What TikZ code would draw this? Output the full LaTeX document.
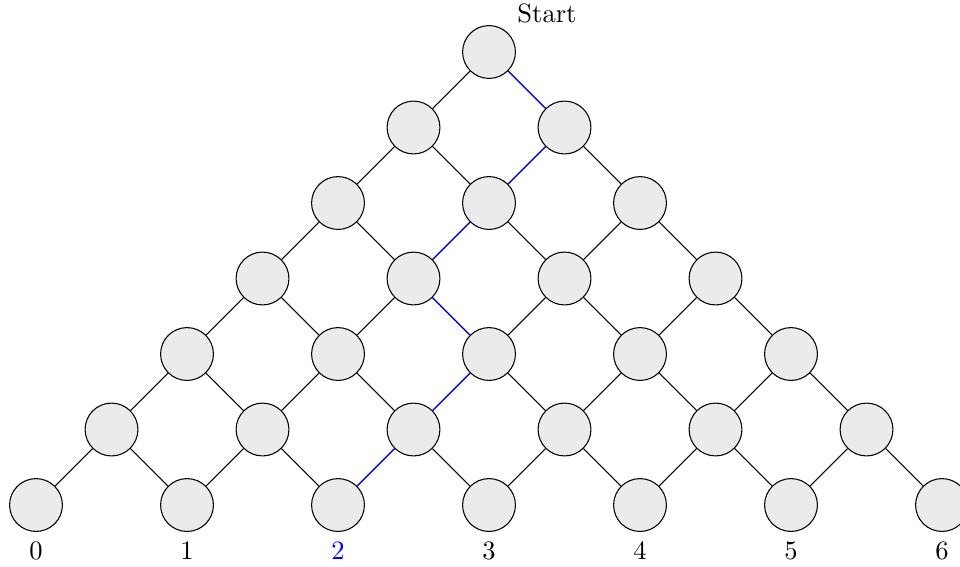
\documentclass[tikz,border=0pt]{standalone}
\usetikzlibrary{positioning}
\begin{document}
\begin{tikzpicture}[peg/.style={draw, circle, fill=black!8, minimum size=7mm, inner sep=0pt}]
\useasboundingbox (-6.477,0.689) rectangle (6.238,-6.808);
% pegs
\foreach \r in {0,...,6}
  \foreach \k in {0,...,\r}
    \node[peg] (n\r\k) at ({2*\k-\r},-\r) {};
\node[above right=0pt of n00.north east] (start) {Start};
% bins
\foreach \k/\c in {0/black,1/black,2/blue,3/black,4/black,5/black,6/black}
  \node[below=0pt of n6\k, text=\c] (b\k) {\k};
% connectors
\foreach \r in {0,...,5}
  \foreach \k in {0,...,\r} {
    \pgfmathtruncatemacro\rr{\r+1}
    \pgfmathtruncatemacro\kk{\k+1}
    \draw (n\r\k) -- (n\rr\k);
    \draw (n\r\k) -- (n\rr\kk);
  }
\draw[blue] (n00) -- (n11) -- (n21) -- (n31) -- (n42) -- (n52) -- (n62);
\end{tikzpicture}
\end{document}
